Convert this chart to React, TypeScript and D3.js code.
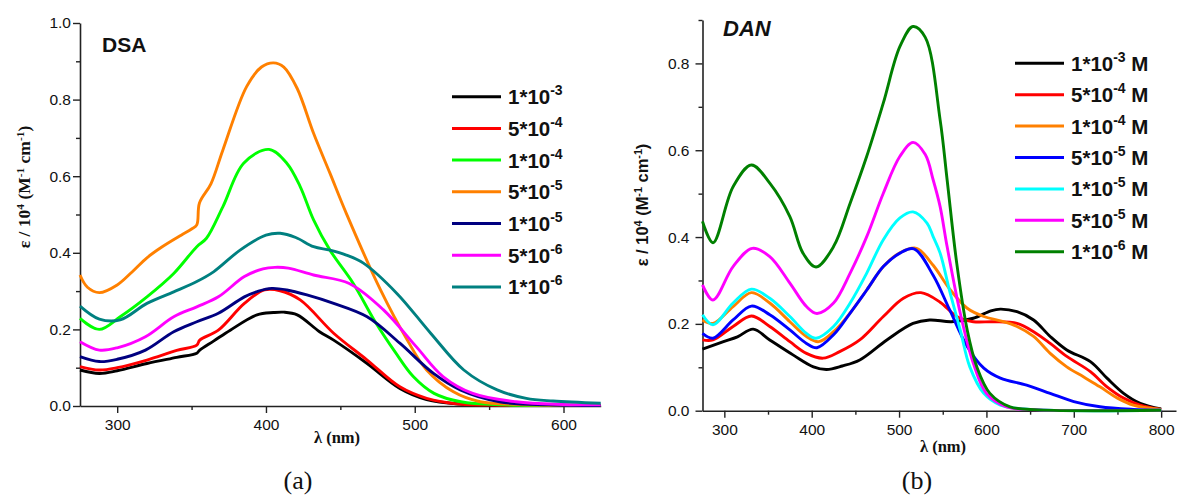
import React, { useRef, useEffect } from "react";
import * as d3 from "d3";

type Pt = [number, number];

// ---- DSA panel (a) ----
const dsaLabels = ["-3", "-4", "-4", "-5", "-5", "-6", "-6"];
const dsaMantissa = ["1", "5", "1", "5", "1", "5", "1"];
const dsaColors = ["#000000", "#ff0000", "#00ff00", "#ff8000", "#000080", "#ff00ff", "#008080"];

const dsa1e3: Pt[] = [[275, 0.094], [288, 0.085], [300, 0.092], [320, 0.111], [340, 0.127], [353.5, 0.138], [355.5, 0.146], [365, 0.17], [376, 0.198], [394, 0.238], [405, 0.244], [412, 0.245], [421, 0.238], [436, 0.194], [445.5, 0.172], [468, 0.111], [490, 0.046], [508, 0.017], [530, 0.005], [560, 0.002], [625, 0.001]];
const dsa5e4: Pt[] = [[275, 0.103], [288, 0.094], [300, 0.1], [320, 0.12], [340, 0.145], [353.5, 0.159], [355.5, 0.172], [368, 0.198], [385.5, 0.268], [399, 0.303], [409.5, 0.301], [423, 0.277], [445.5, 0.19], [468, 0.12], [490, 0.05], [508, 0.02], [530, 0.005], [560, 0.002], [625, 0.001]];
const dsa1e4: Pt[] = [[275, 0.229], [288, 0.2], [302, 0.233], [320, 0.285], [338, 0.346], [353.5, 0.416], [360, 0.438], [371, 0.52], [385, 0.634], [402, 0.67], [414, 0.634], [423, 0.573], [432, 0.486], [443, 0.407], [458.7, 0.32], [473.4, 0.22], [487, 0.14], [499, 0.077], [513, 0.033], [531, 0.011], [560, 0.003], [625, 0.001]];
const dsa5e5: Pt[] = [[275, 0.342], [280, 0.31], [288, 0.296], [300, 0.316], [310, 0.35], [320, 0.387], [330, 0.415], [343, 0.446], [350, 0.462], [353.5, 0.473], [355.3, 0.53], [363, 0.58], [371, 0.668], [387, 0.834], [397, 0.885], [405, 0.896], [412, 0.885], [421, 0.829], [432, 0.712], [443, 0.608], [454, 0.503], [477, 0.303], [495, 0.172], [508, 0.094], [526, 0.037], [544, 0.011], [570, 0.004], [625, 0.002]];
const dsa1e5: Pt[] = [[275, 0.129], [288, 0.116], [300, 0.122], [319, 0.146], [338, 0.194], [353.5, 0.22], [368, 0.242], [385.5, 0.285], [395, 0.3], [404, 0.307], [414, 0.303], [427.5, 0.29], [445.5, 0.268], [468, 0.233], [490, 0.164], [512.6, 0.085], [530.6, 0.042], [557, 0.011], [590, 0.003], [625, 0.001]];
const dsa5e6: Pt[] = [[275, 0.168], [288, 0.146], [300, 0.152], [319, 0.181], [338, 0.233], [353.5, 0.259], [368, 0.285], [385.5, 0.338], [398, 0.358], [406, 0.362], [415, 0.36], [432, 0.342], [456, 0.32], [479, 0.251], [501, 0.155], [519, 0.077], [539, 0.033], [568, 0.011], [600, 0.004], [625, 0.003]];
const dsa1e6: Pt[] = [[275, 0.261], [288, 0.227], [302, 0.225], [320, 0.268], [338, 0.298], [353.5, 0.325], [365, 0.351], [382.6, 0.407], [400, 0.446], [409.5, 0.451], [420, 0.44], [432, 0.416], [443, 0.407], [454, 0.394], [465.5, 0.373], [488, 0.294], [510.7, 0.19], [533, 0.094], [555.4, 0.042], [575, 0.02], [593, 0.013], [625, 0.007]];
const dsaSeries = [dsa1e3, dsa5e4, dsa1e4, dsa5e5, dsa1e5, dsa5e6, dsa1e6];

// ---- DAN panel (b) ----
const danLabels = ["-3", "-4", "-4", "-5", "-5", "-5", "-6"];
const danMantissa = ["1", "5", "1", "5", "1", "5", "1"];
const danColors = ["#000000", "#ff0000", "#ff8000", "#0000ff", "#00ffff", "#ff00ff", "#008000"];

const dan1e3: Pt[] = [[275, 0.142], [299, 0.159], [315, 0.17], [333, 0.188], [352, 0.163], [379, 0.128], [402, 0.101], [417, 0.095], [435, 0.103], [455, 0.117], [486, 0.163], [516, 0.201], [535, 0.209], [560, 0.205], [585, 0.213], [605, 0.23], [616, 0.234], [635, 0.228], [654, 0.209], [673, 0.171], [692, 0.14], [719, 0.113], [738, 0.075], [757, 0.04], [776, 0.017], [800, 0.004]];
const dan5e4: Pt[] = [[275, 0.163], [287, 0.163], [310, 0.194], [331, 0.218], [352, 0.194], [375, 0.159], [394, 0.132], [413, 0.121], [432, 0.136], [455, 0.163], [482, 0.217], [505, 0.259], [525, 0.272], [547, 0.25], [566, 0.217], [585, 0.205], [608, 0.205], [635, 0.201], [654, 0.182], [673, 0.155], [692, 0.125], [719, 0.09], [738, 0.055], [757, 0.029], [776, 0.013], [800, 0.003]];
const dan1e4: Pt[] = [[275, 0.209], [287, 0.201], [310, 0.24], [331, 0.272], [352, 0.248], [375, 0.205], [394, 0.171], [408, 0.159], [425, 0.182], [444, 0.225], [463, 0.278], [482, 0.332], [501, 0.364], [520, 0.374], [539, 0.335], [558, 0.28], [578, 0.236], [597, 0.217], [616, 0.207], [635, 0.194], [654, 0.171], [673, 0.132], [692, 0.101], [711, 0.078], [730, 0.055], [750, 0.029], [768, 0.013], [800, 0.003]];
const dan5e5: Pt[] = [[275, 0.178], [287, 0.167], [310, 0.209], [331, 0.241], [352, 0.221], [375, 0.186], [394, 0.155], [406, 0.145], [425, 0.175], [444, 0.225], [463, 0.278], [482, 0.332], [501, 0.363], [517, 0.373], [539, 0.312], [558, 0.232], [578, 0.148], [597, 0.098], [616, 0.075], [646, 0.059], [673, 0.04], [700, 0.021], [730, 0.009], [768, 0.003], [800, 0.001]];
const dan1e5: Pt[] = [[275, 0.221], [287, 0.198], [310, 0.248], [331, 0.28], [352, 0.259], [375, 0.217], [394, 0.178], [405, 0.167], [425, 0.194], [444, 0.248], [463, 0.317], [482, 0.394], [501, 0.444], [516, 0.458], [532, 0.432], [539, 0.401], [547, 0.363], [558, 0.275], [570, 0.186], [581, 0.101], [597, 0.04], [616, 0.013], [650, 0.003], [800, 0.001]];
const dan5e5b: Pt[] = [[275, 0.29], [287, 0.255], [310, 0.332], [332, 0.374], [352, 0.355], [375, 0.294], [394, 0.24], [406, 0.224], [425, 0.248], [444, 0.317], [463, 0.401], [482, 0.501], [501, 0.586], [516, 0.618], [530, 0.59], [539, 0.532], [547, 0.47], [555, 0.378], [570, 0.225], [585, 0.109], [600, 0.04], [623, 0.009], [660, 0.002], [800, 0.001]];
const dan1e6: Pt[] = [[275, 0.436], [287, 0.387], [310, 0.516], [331, 0.566], [352, 0.524], [375, 0.447], [390, 0.363], [405, 0.331], [425, 0.378], [444, 0.478], [463, 0.586], [482, 0.709], [501, 0.839], [516, 0.885], [530, 0.86], [547, 0.67], [555, 0.532], [566, 0.34], [578, 0.186], [589, 0.101], [604, 0.04], [627, 0.009], [660, 0.002], [800, 0.001]];
const danSeries = [dan1e3, dan5e4, dan1e4, dan5e5, dan1e5, dan5e5b, dan1e6];

const dsaXTicks = [300, 400, 500, 600];
const dsaXMinor = [350, 450, 550];
const dsaYTicks = [0, 0.2, 0.4, 0.6, 0.8, 1.0];
const dsaYMinor = [0.1, 0.3, 0.5, 0.7, 0.9];
const danXTicks = [300, 400, 500, 600, 700, 800];
const danXMinor = [350, 450, 550, 650, 750];
const danYTicks = [0, 0.2, 0.4, 0.6, 0.8];
const danYMinor = [0.1, 0.3, 0.5, 0.7, 0.9];

const SANS = "Arial, 'Liberation Sans', sans-serif";
const SERIF = "'Times New Roman', 'Liberation Serif', serif";

function drawPanel(svg, cfg) {
  const x = d3.scaleLinear().domain(cfg.xDomain).range(cfg.xRange);
  const y = d3.scaleLinear().domain(cfg.yDomain).range(cfg.yRange);
  const g = svg.append("g");

  const style = (sel) => {
    sel.selectAll("path.domain").attr("stroke", "#222").attr("stroke-width", 1.6);
    sel.selectAll(".tick line").attr("stroke", "#222").attr("stroke-width", 1.4);
    sel.selectAll(".tick text")
      .attr("font-family", SANS)
      .attr("font-size", 15.5)
      .attr("fill", "#111");
  };

  // x axis, major + minor ticks
  const xa = g.append("g").attr("transform", `translate(0,${cfg.yRange[0]})`)
    .call(d3.axisBottom(x).tickValues(cfg.xTicks).tickFormat(d3.format("d"))
      .tickSize(7).tickSizeOuter(0).tickPadding(cfg.xPad));
  style(xa);
  const xm = g.append("g").attr("transform", `translate(0,${cfg.yRange[0]})`)
    .call(d3.axisBottom(x).tickValues(cfg.xMinor).tickFormat(() => "").tickSize(4));
  xm.select("path.domain").remove();
  style(xm);

  // y axis, major + minor ticks
  const ya = g.append("g").attr("transform", `translate(${cfg.xRange[0]},0)`)
    .call(d3.axisLeft(y).tickValues(cfg.yTicks).tickFormat(d3.format(".1f"))
      .tickSize(7).tickSizeOuter(0).tickPadding(cfg.yPad));
  style(ya);
  const ym = g.append("g").attr("transform", `translate(${cfg.xRange[0]},0)`)
    .call(d3.axisLeft(y).tickValues(cfg.yMinor).tickFormat(() => "").tickSize(4));
  ym.select("path.domain").remove();
  style(ym);

  // curves
  const line = d3.line<Pt>().x(d => x(d[0])).y(d => y(Math.max(0.0005, d[1])))
    .curve(d3.curveCatmullRom.alpha(0.5));
  g.append("g").selectAll("path")
    .data(cfg.series)
    .join("path")
    .attr("d", d => line(d))
    .attr("fill", "none")
    .attr("stroke", (d, i) => cfg.colors[i])
    .attr("stroke-width", 2.9)
    .attr("stroke-linejoin", "round");

  // legend
  const leg = g.append("g");
  cfg.series.forEach((s, i) => {
    const ly = cfg.legY + i * cfg.legStep;
    leg.append("line")
      .attr("x1", cfg.legX).attr("x2", cfg.legX + 49)
      .attr("y1", ly).attr("y2", ly)
      .attr("stroke", cfg.colors[i]).attr("stroke-width", 3);
    const t = leg.append("text")
      .attr("x", cfg.legX + 56).attr("y", ly + 7.5)
      .attr("font-family", SANS).attr("font-weight", "bold")
      .attr("font-size", 20.5).attr("fill", "#111");
    t.append("tspan").text(`${cfg.mant[i]}*10`);
    t.append("tspan").attr("dy", -9).attr("font-size", 14).text(cfg.exps[i]);
    if (cfg.unit) t.append("tspan").attr("dy", 9).text(" M");
  });

  // panel title
  svg.append("text")
    .attr("x", cfg.titleX).attr("y", cfg.titleY)
    .attr("font-family", SANS).attr("font-weight", "bold")
    .attr("font-style", cfg.titleItalic ? "italic" : "normal")
    .attr("font-size", cfg.titleSize).attr("fill", "#111")
    .text(cfg.title);

  // x title
  svg.append("text")
    .attr("x", cfg.xTitle[0]).attr("y", cfg.xTitle[1])
    .attr("text-anchor", "middle")
    .attr("font-family", SERIF).attr("font-weight", "bold")
    .attr("font-size", 16.5).attr("fill", "#111")
    .text("λ (nm)");

  // y title
  const ys = cfg.yTitleSize;
  const yt = svg.append("text")
    .attr("transform", `translate(${cfg.yTitle[0]},${cfg.yTitle[1]}) rotate(-90)`)
    .attr("text-anchor", "middle")
    .attr("font-family", cfg.yTitleFont).attr("font-weight", "bold")
    .attr("font-size", ys).attr("fill", "#111");
  yt.append("tspan").text("ε / 10");
  yt.append("tspan").attr("dy", -6).attr("font-size", ys * 0.65).text("4");
  yt.append("tspan").attr("dy", 6).text(" (M");
  yt.append("tspan").attr("dy", -6).attr("font-size", ys * 0.65).text("-1");
  yt.append("tspan").attr("dy", 6).text(" cm");
  yt.append("tspan").attr("dy", -6).attr("font-size", ys * 0.65).text("-1");
  yt.append("tspan").attr("dy", 6).text(")");

  // caption
  svg.append("text")
    .attr("x", cfg.caption[0]).attr("y", cfg.caption[1])
    .attr("text-anchor", "middle")
    .attr("font-family", SERIF).attr("font-size", 26).attr("fill", "#111")
    .text(cfg.captionText);
}

const App = () => {
  const svgRef = useRef(null);

  useEffect(() => {
    const svg = d3.select(svgRef.current);
    svg.selectAll("*").remove();

    drawPanel(svg, {
      xDomain: [275, 625], xRange: [80, 600.7],
      yDomain: [0, 1], yRange: [406, 23],
      xTicks: dsaXTicks, xMinor: dsaXMinor, yTicks: dsaYTicks, yMinor: dsaYMinor,
      xPad: 6, yPad: 2,
      series: dsaSeries, colors: dsaColors, mant: dsaMantissa, exps: dsaLabels, unit: false,
      legX: 452, legY: 96.7, legStep: 31.7,
      title: "DSA", titleX: 102, titleY: 52, titleSize: 21, titleItalic: false,
      xTitle: [337, 443], yTitle: [30, 187], yTitleFont: SERIF, yTitleSize: 17.5,
      caption: [298, 489], captionText: "(a)",
    });

    drawPanel(svg, {
      xDomain: [275, 817], xRange: [702.5, 1176],
      yDomain: [0, 0.9], yRange: [410.7, 20],
      xTicks: danXTicks, xMinor: danXMinor, yTicks: danYTicks, yMinor: danYMinor,
      xPad: 6, yPad: 6,
      series: danSeries, colors: danColors, mant: danMantissa, exps: danLabels, unit: true,
      legX: 1015, legY: 63.3, legStep: 31.4,
      title: "DAN", titleX: 723, titleY: 36, titleSize: 22, titleItalic: true,
      xTitle: [943, 452], yTitle: [648, 205], yTitleFont: SANS, yTitleSize: 16.5,
      caption: [917, 489], captionText: "(b)",
    });
  }, []);

  return (
    <svg
      ref={svgRef}
      width={1177}
      height={495}
      style={{ position: "absolute", left: 0, top: 0, background: "#fff" }}
    />
  );
};

export default App;
